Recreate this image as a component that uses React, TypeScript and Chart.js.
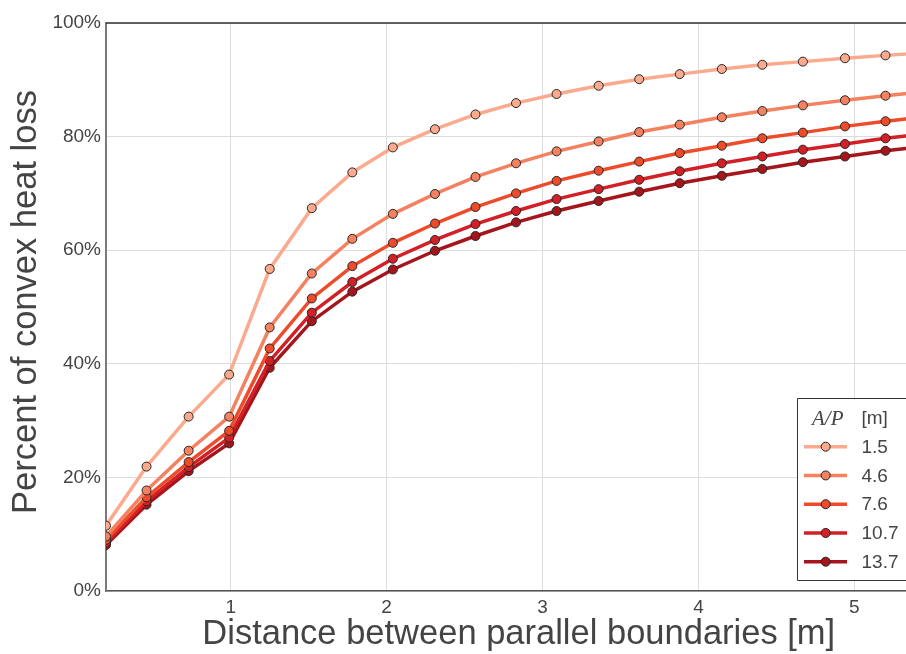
import React, { useEffect, useRef } from "react";
import { Chart, registerables } from "chart.js";

Chart.register(...registerables);

// Distance between parallel boundaries [m]
const distances = [0.2, 0.46, 0.73, 0.99, 1.25, 1.52, 1.78, 2.04, 2.31, 2.57, 2.83, 3.09, 3.36, 3.62, 3.88, 4.15, 4.41, 4.67, 4.94, 5.2, 5.46];

// Percent of convex heat loss, one array per A/P value
const ap_1_5 = [11.5, 21.9, 30.7, 38.1, 56.7, 67.4, 73.7, 78.1, 81.3, 83.9, 85.9, 87.5, 88.95, 90.1, 91.0, 91.9, 92.65, 93.2, 93.8, 94.3, 94.75];
const ap_4_6 = [9.6, 17.7, 24.7, 30.7, 46.4, 55.9, 62.0, 66.4, 69.9, 72.9, 75.3, 77.4, 79.15, 80.8, 82.1, 83.4, 84.5, 85.5, 86.4, 87.2, 87.95];
const ap_7_6 = [9.0, 16.5, 22.7, 28.2, 42.7, 51.5, 57.2, 61.3, 64.7, 67.6, 70.0, 72.2, 74.0, 75.6, 77.1, 78.4, 79.7, 80.7, 81.8, 82.7, 83.5];
const ap_10_7 = [8.5, 15.8, 21.8, 27.0, 40.5, 49.0, 54.4, 58.5, 61.8, 64.6, 66.9, 69.0, 70.75, 72.4, 73.9, 75.3, 76.5, 77.7, 78.7, 79.7, 80.5];
const ap_13_7 = [8.1, 15.2, 21.1, 26.0, 39.3, 47.5, 52.7, 56.6, 59.9, 62.5, 64.9, 66.9, 68.65, 70.3, 71.8, 73.1, 74.3, 75.5, 76.5, 77.5, 78.3];

const seriesLabels = ["1.5", "4.6", "7.6", "10.7", "13.7"];
const seriesValues = [ap_1_5, ap_4_6, ap_7_6, ap_10_7, ap_13_7];
const seriesColors = ["#fcaa8e", "#f4815f", "#ee4b2b", "#d22026", "#a5151c"];

const xTickValues = [1, 2, 3, 4, 5];
const yTickValues = [0, 20, 40, 60, 80, 100];

const xTitle = "Distance between parallel boundaries [m]";
const yTitle = "Percent of convex heat loss";
const legendTitleMath = "A/P";
const legendTitleUnit = "[m]";

const SANS = "'Liberation Sans', Arial, sans-serif";
const TEXT = "#444444";

const overlayPlugin = {
  id: "overlay",
  afterDraw(chart: any) {
    const ctx = chart.ctx as CanvasRenderingContext2D;
    const { left, right, top } = chart.chartArea;
    ctx.save();
    // top frame line
    ctx.strokeStyle = "#333333";
    ctx.lineWidth = 1.5;
    ctx.beginPath();
    ctx.moveTo(left, top);
    ctx.lineTo(right, top);
    ctx.stroke();

    // y axis title
    ctx.save();
    ctx.translate(26, 302);
    ctx.rotate(-Math.PI / 2);
    ctx.textAlign = "center";
    ctx.textBaseline = "middle";
    ctx.fillStyle = TEXT;
    ctx.font = `34.5px ${SANS}`;
    ctx.fillText(yTitle, 0, 0);
    ctx.restore();

    // legend box (its right side lies beyond the visible page, as in the reference)
    const bx = 797.5, by = 398.5, bw = 170, bh = 182;
    ctx.fillStyle = "#ffffff";
    ctx.fillRect(bx, by, bw, bh);
    ctx.strokeStyle = "#333333";
    ctx.lineWidth = 1;
    ctx.beginPath();
    ctx.moveTo(bx + bw, by);
    ctx.lineTo(bx, by);
    ctx.lineTo(bx, by + bh);
    ctx.lineTo(bx + bw, by + bh);
    ctx.stroke();

    // legend title
    ctx.textBaseline = "middle";
    ctx.textAlign = "left";
    ctx.fillStyle = TEXT;
    ctx.font = "italic 21px 'Liberation Serif', 'DejaVu Serif', serif";
    ctx.fillText(legendTitleMath, 812, 419);
    ctx.font = `19px ${SANS}`;
    ctx.fillText(legendTitleUnit, 861.5, 419);

    // legend entries
    seriesLabels.forEach((lab, i) => {
      const y = 446.7 + i * 28.75;
      ctx.strokeStyle = seriesColors[i];
      ctx.lineWidth = 3.5;
      ctx.beginPath();
      ctx.moveTo(804, y);
      ctx.lineTo(847, y);
      ctx.stroke();
      ctx.beginPath();
      ctx.arc(825.7, y, 4.5, 0, Math.PI * 2);
      ctx.fillStyle = seriesColors[i];
      ctx.fill();
      ctx.strokeStyle = "#262626";
      ctx.lineWidth = 1;
      ctx.stroke();
      ctx.fillStyle = TEXT;
      ctx.font = `19px ${SANS}`;
      ctx.fillText(lab, 861.5, y + 1);
    });
    ctx.restore();
  },
};

export default function App() {
  const ref = useRef<HTMLCanvasElement>(null);

  useEffect(() => {
    if (!ref.current) return;
    const chart = new Chart(ref.current, {
      type: "line",
      data: {
        datasets: seriesLabels.map((lab, i) => ({
          label: lab,
          data: distances.map((d, j) => ({ x: d, y: seriesValues[i][j] })),
          borderColor: seriesColors[i],
          backgroundColor: seriesColors[i],
          borderWidth: 3.5,
          pointRadius: 4.5,
          pointBorderWidth: 1,
          pointBorderColor: "#262626",
          pointBackgroundColor: seriesColors[i],
          tension: 0,
          fill: false,
        })),
      },
      options: {
        responsive: false,
        animation: false,
        devicePixelRatio: 1,
        layout: { padding: { top: 23, left: 0, right: 0, bottom: 0 } },
        plugins: {
          legend: { display: false },
          tooltip: { enabled: false },
        },
        scales: {
          x: {
            type: "linear",
            min: 0.2,
            max: 5.495,
            afterBuildTicks: (scale: any) => {
              scale.ticks = xTickValues.map((v) => ({ value: v }));
            },
            afterFit: (scale: any) => {
              scale.height = 63;
              scale.paddingLeft = 0;
              scale.paddingRight = 0;
            },
            grid: { color: "#dcdcdc", lineWidth: 1, drawTicks: false },
            border: { color: "#555555", width: 1.5 },
            ticks: {
              padding: 5,
              color: TEXT,
              font: { family: SANS, size: 19 },
              maxRotation: 0,
              callback: (v: any) => String(v),
            },
            title: {
              display: true,
              text: xTitle,
              color: TEXT,
              font: { family: SANS, size: 34.5, lineHeight: 1 },
              padding: { top: 0, bottom: 2 },
            },
          },
          y: {
            type: "linear",
            min: 0,
            max: 100,
            afterBuildTicks: (scale: any) => {
              scale.ticks = yTickValues.map((v) => ({ value: v }));
            },
            afterFit: (scale: any) => {
              scale.width = 106;
              scale.paddingTop = 0;
              scale.paddingBottom = 0;
            },
            grid: { color: "#dcdcdc", lineWidth: 1, drawTicks: false },
            border: { color: "#7a7a7a", width: 2 },
            ticks: {
              padding: 5,
              color: TEXT,
              font: { family: SANS, size: 19 },
              callback: (v: any) => `${v}%`,
            },
            title: { display: false },
          },
        },
      },
      plugins: [overlayPlugin],
    });
    return () => chart.destroy();
  }, []);

  return (
    <div
      style={{
        position: "fixed",
        left: 0,
        top: 0,
        width: 906,
        height: 654,
        overflow: "hidden",
        background: "#ffffff",
      }}
    >
      <canvas ref={ref} width={937} height={654} style={{ display: "block" }} />
    </div>
  );
}
